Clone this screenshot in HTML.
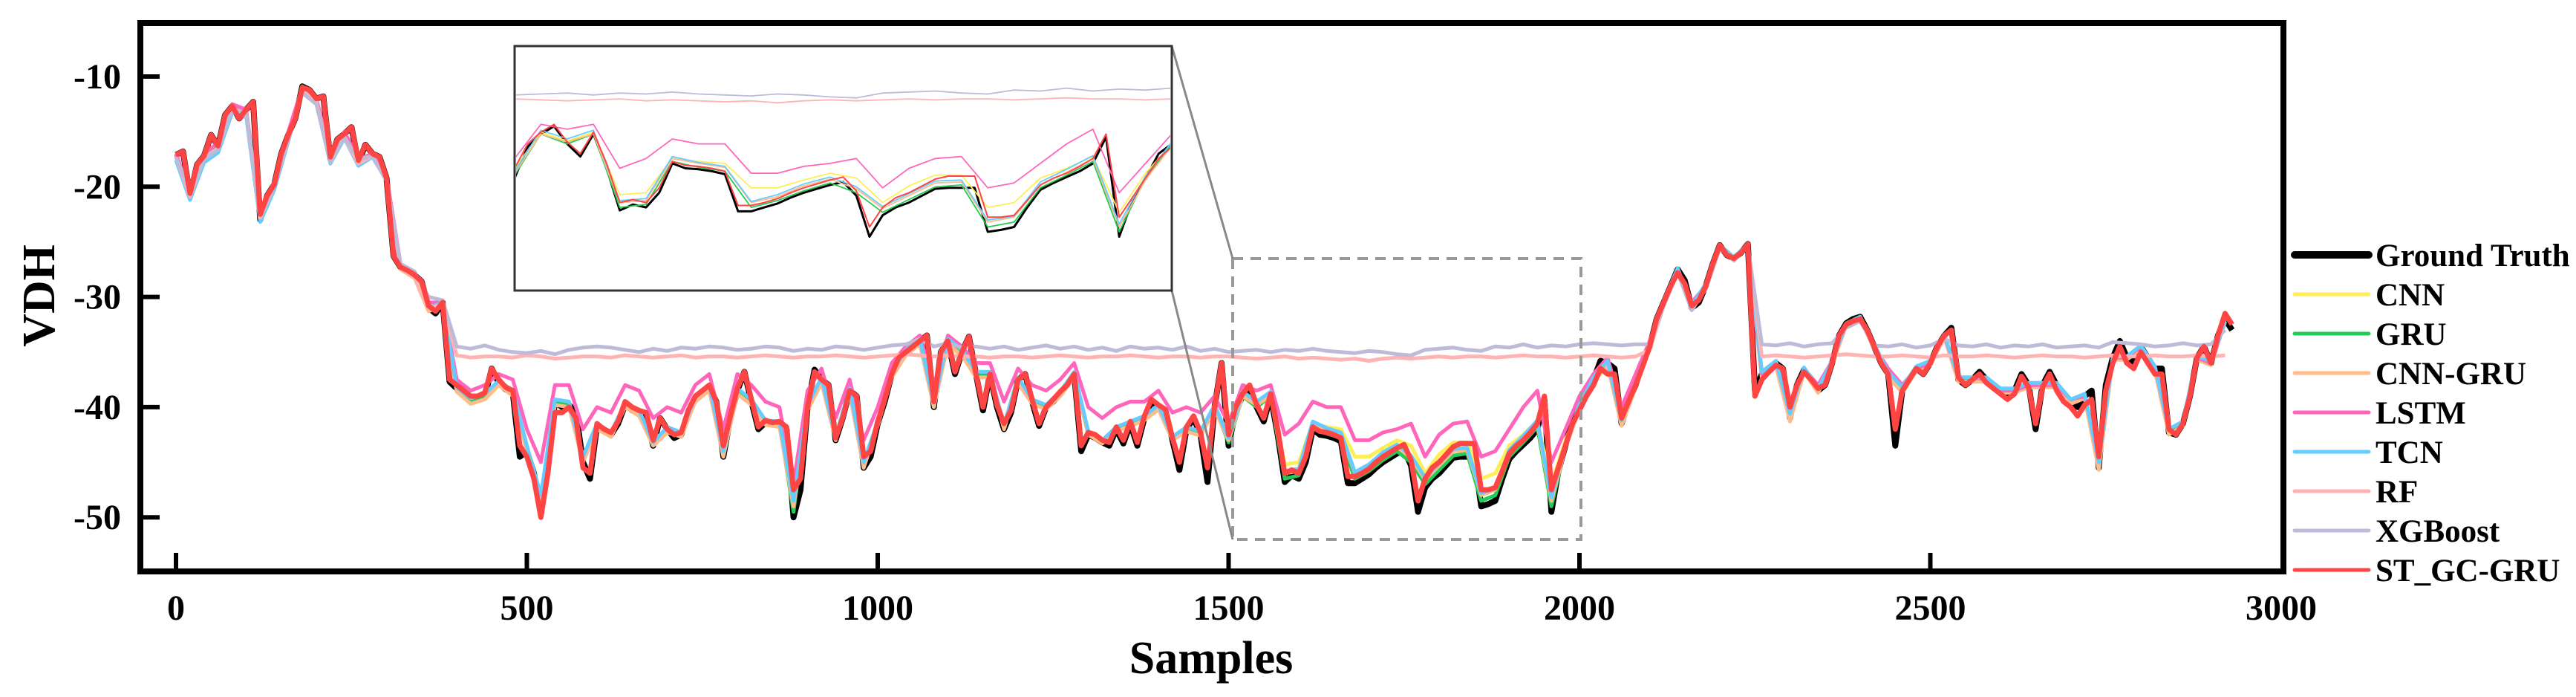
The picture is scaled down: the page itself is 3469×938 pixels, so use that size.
<!DOCTYPE html>
<html>
<head>
<meta charset="utf-8">
<style>
  html,body{margin:0;padding:0;background:#fff;}
  svg{display:block;}
  text{font-family:"Liberation Serif","DejaVu Serif",serif;font-weight:bold;fill:#000;}
</style>
</head>
<body>
<svg id="chart" width="3469" height="938" viewBox="0 0 3469 938" xmlns="http://www.w3.org/2000/svg">
  <defs>
    <clipPath id="mainClip"><rect x="193" y="35" width="2878" height="730"/></clipPath>
    <clipPath id="insetClip"><rect x="695" y="64" width="881" height="325"/></clipPath>
  </defs>
  <rect x="0" y="0" width="3469" height="938" fill="#fff"/>
  <g id="mainSeries" clip-path="url(#mainClip)"></g>
  <rect x="189" y="31" width="2886" height="738" fill="none" stroke="#000" stroke-width="8"/>
  <g id="ticks"></g>
  <text x="1631" y="906" font-size="62" text-anchor="middle">Samples</text>
  <text x="0" y="0" font-size="62" text-anchor="middle" transform="translate(73,398) rotate(-90)">VDH</text>
  <rect x="1660" y="348" width="469" height="378" fill="none" stroke="#999" stroke-width="4" stroke-dasharray="14 10"/>
  <line x1="1578" y1="62" x2="1660" y2="348" stroke="#888" stroke-width="3"/>
  <line x1="1578" y1="391" x2="1660" y2="726" stroke="#888" stroke-width="3"/>
  <rect x="693" y="62" width="885" height="329" fill="#fff"/>
  <g id="insetSeries" clip-path="url(#insetClip)"></g>
  <rect x="693" y="62" width="885" height="329" fill="none" stroke="#333" stroke-width="3"/>
  <g id="legend"></g>
</svg>
<script>
const seriesNames = ["Ground Truth","CNN","GRU","CNN-GRU","LSTM","TCN","RF","XGBoost","ST_GC-GRU"];
const seriesColors = ["#000000","#ffee55","#22cc55","#ffbb88","#ff66bb","#66ccff","#ffb3b3","#bdbbd8","#ff4444"];
const xTicks = [0,500,1000,1500,2000,2500,3000];
const yTicks = [-10,-20,-30,-40,-50];

const truth = [
-17.1,-16.8,-20.8,-18,-17.2,-15.3,-16.3,-13.5,-12.7,-13.8,
-13,-12.3,-23,-20.8,-19.8,-17,-15.3,-13.8,-10.9,-11.2,
-12,-11.8,-17.5,-15.7,-15.2,-14.6,-17.8,-16.2,-17,-17.3,
-19.2,-26.3,-27.3,-27.6,-28,-28.6,-31,-31.5,-30.5,-37.7,
-38.3,-38.8,-39.4,-39.3,-39,-36.5,-37.8,-38.4,-38.7,-44.5,
-44,-46,-49.5,-45,-39.5,-40,-39.8,-40.5,-45,-46.5,
-41.7,-42,-42.5,-41.5,-39.8,-40.3,-40.5,-40.8,-43.5,-41,
-42,-42.8,-42.5,-40.5,-39.3,-38.8,-38.2,-39.5,-44.5,-41,
-38.5,-36.8,-39.5,-42,-41.4,-41.6,-41.5,-42,-50,-47.5,
-40,-36.6,-37.5,-38,-43,-41,-38.5,-39,-45.5,-44.5,
-41.5,-39.5,-37,-35.4,-35,-34.5,-34,-33.5,-40,-35,
-34,-37,-35,-33.6,-37,-40.3,-37,-40,-42,-40.5,
-37.5,-37,-39.5,-41.7,-40,-39.5,-38.8,-38,-37,-44,
-42.5,-42.8,-43.2,-43.5,-42,-43.3,-41.5,-43.5,-41,-39.5,
-40,-40.3,-43,-45.7,-42,-41,-42.5,-46.8,-40,-36,
-43.5,-40.3,-39,-38.2,-40,-41.3,-39,-42.5,-46.8,-46.2,
-46.5,-45,-42,-42.5,-42.6,-42.8,-43.1,-46.9,-46.9,-46.5,
-46.1,-45.5,-45,-44.6,-44.2,-43.9,-45.3,-49.5,-47.3,-46.5,
-46,-45.3,-44.6,-44.5,-44.5,-44.5,-49,-48.8,-48.5,-46.5,
-44.7,-44,-43.4,-42.8,-42,-39.3,-49.5,-45.8,-43.5,-41,
-40,-38.8,-37.5,-35.8,-36,-36.5,-41.5,-39.5,-38,-36,
-34.5,-32,-30.5,-29,-27.5,-28.5,-31,-30.5,-29,-27,
-25.3,-26.2,-26.5,-26,-25.2,-38.5,-37,-36.6,-36,-36.5,
-41,-38,-36.6,-37.5,-38.5,-38,-36,-33.5,-32.4,-32,
-31.8,-33,-34.5,-36,-37,-43.5,-38.5,-37.5,-36.5,-37,
-36,-34.5,-33.5,-32.8,-37.5,-38,-37.5,-36.8,-37.5,-38,
-38.5,-39,-38.5,-37,-38,-42,-38,-36.8,-38,-39,
-39.5,-40,-39,-38.5,-45.5,-38,-35.5,-34,-35.5,-36,
-34.5,-35.5,-36.5,-36.5,-42.3,-42.5,-41.5,-39,-35.5,-34.5,
-36,-33.5,-32,-33];

const stgcgru = [
-17.1,-16.8,-20.6,-18,-17.2,-15.3,-16.3,-13.5,-12.7,-13.8,
-13,-12.3,-22.5,-20.8,-19.8,-17,-15.3,-13.8,-11,-11.2,
-12,-11.8,-17.3,-15.7,-15.2,-14.6,-17.6,-16.2,-17,-17.3,
-19.2,-26.3,-27.3,-27.6,-28,-28.6,-30.8,-31.3,-30.5,-37.5,
-38,-38.5,-39,-39,-38.7,-36.5,-37.5,-38.2,-38.5,-43.5,
-44.5,-46.5,-50,-46,-40.5,-40.5,-40,-41,-45.5,-46,
-41.5,-42,-42.3,-41.3,-39.5,-40,-40.3,-40.5,-43,-41,
-42,-42.5,-42.3,-40.3,-39,-38.5,-38,-39.5,-43.5,-40.8,
-38.3,-36.8,-39.3,-41.8,-41.2,-41.4,-41.3,-41.8,-47.5,-46.5,
-40,-36.8,-37.5,-38,-42.8,-41,-38.5,-39,-44.5,-44,
-41.3,-39.3,-37,-35.5,-35,-34.5,-34,-33.5,-39.5,-35,
-34,-36.8,-35,-33.6,-37,-40,-37,-39.8,-41.5,-40.3,
-37.5,-37,-39.3,-41.5,-40,-39.3,-38.6,-38,-37,-43.5,
-42.3,-42.5,-43,-43.2,-41.8,-43,-41.3,-43.2,-40.8,-39.3,
-39.8,-40.2,-42.8,-45,-41.8,-40.8,-42.3,-45.5,-40,-36,
-42.5,-40,-38.8,-38,-39.8,-41,-38.8,-42,-46,-45.7,
-46,-44.5,-41.8,-42.2,-42.3,-42.5,-42.8,-46.3,-46.3,-46,
-45.6,-45,-44.5,-44.1,-43.7,-43.4,-44.8,-48.5,-46.5,-45.5,
-45,-44.3,-43.6,-43.3,-43.3,-43.3,-47.5,-47.5,-47.3,-45.8,
-44.2,-43.5,-43,-42.3,-41.5,-39,-47.5,-45.5,-43.5,-41.5,
-40.3,-39,-38,-36.5,-37,-37,-41,-39.5,-38,-36.3,
-34.5,-32,-30.5,-29,-27.8,-28.8,-30.8,-30.3,-29,-27,
-25.3,-26.2,-26.5,-26,-25.2,-39,-37.5,-36.8,-36.2,-36.5,
-40,-38,-36.8,-37.5,-38.3,-38,-36,-33.5,-32.5,-32.2,
-32,-33,-34.5,-36,-37,-42,-38.5,-37.5,-36.5,-37,
-36,-34.5,-33.5,-33,-37.3,-38,-37.5,-37,-37.8,-38.3,
-38.8,-39.3,-38.8,-37.2,-38.2,-41.5,-38.2,-37,-38.5,-39.5,
-40,-40.8,-39.8,-39.3,-44.5,-38.5,-36,-34.5,-36,-36.5,
-35,-36,-37,-37,-42,-42.5,-41.5,-39,-35.5,-34.5,
-36,-33.5,-31.5,-32.5];

const cnn = [
-17.1,-20.8,-17.2,-16.3,-12.7,-13,-23,-19.8,-15.3,-10.9,
-12,-17.5,-15.2,-17.8,-17,-19.2,-27.3,-28,-31,-30.5,
-38.2,-39.2,-39,-37.8,-38.5,-43.5,-48.5,-39.5,-39.5,-44.5,
-41.5,-42.3,-39.8,-40.5,-43,-42,-42.3,-39.3,-38.2,-44,
-38.5,-39.5,-41.2,-41.5,-48.5,-40,-37.8,-42.5,-38.5,-45,
-41.3,-37.2,-35.2,-34.3,-39.5,-34.5,-35.3,-37,-37,-41.5,
-37.5,-39.3,-40,-38.8,-37.3,-42.3,-43,-42,-41.3,-40.8,
-40,-42.8,-41.8,-42.2,-40,-42.5,-38.8,-39.7,-38.8,-45.2,
-45,-41.5,-41.8,-42,-44.5,-44.5,-43.7,-43,-43.5,-46,
-44.3,-43.2,-43.2,-46.5,-46,-43.5,-42.5,-41.3,-47,-43,
-40,-37.5,-36,-41.5,-38,-34.5,-30.5,-27.5,-31,-29,
-25.3,-26.5,-25.2,-37,-36,-41,-36.6,-38.5,-36,-32.4,
-31.8,-34.5,-37,-38.5,-36.5,-36,-33.5,-37.5,-37.5,-37.5,
-38.5,-38.5,-38,-38,-38,-39.5,-39,-45.5,-35.5,-35.5,
-34.5,-36.5,-42.3,-41.5,-35.5,-36,-32];
const gru = [
-17.1,-20.8,-17.2,-16.3,-12.7,-13,-23,-19.8,-15.3,-10.9,
-12,-17.5,-15.2,-17.8,-17,-19.2,-27.3,-28,-31,-30.5,
-38.3,-39.4,-39,-37.8,-38.7,-44,-49,-39.5,-39.8,-45,
-41.7,-42.5,-39.8,-40.5,-43.5,-42,-42.5,-39.3,-38.2,-44.5,
-38.5,-39.5,-41.4,-41.5,-49.5,-40,-37.5,-43,-38.5,-45.5,
-41.5,-37,-35,-34,-40,-34,-35,-37,-37,-42,
-37.5,-39.5,-40,-38.8,-37,-42.5,-43.2,-42,-41.5,-41,
-40,-43,-42,-42.5,-40,-43.2,-39,-40,-39,-46.5,
-46.2,-41.8,-42.4,-42.8,-46.5,-45.8,-44.8,-44,-45,-47,
-45.7,-44.4,-44.2,-48.5,-48,-44.5,-43.2,-41.8,-49,-43.5,
-40,-37.5,-36,-41.5,-38,-34.5,-30.5,-27.5,-31,-29,
-25.3,-26.5,-25.2,-37,-36,-41,-36.6,-38.5,-36,-32.4,
-31.8,-34.5,-37,-38.5,-36.5,-36,-33.5,-37.5,-37.5,-37.5,
-38.5,-38.5,-38,-38,-38,-39.5,-39,-45.5,-35.5,-35.5,
-34.5,-36.5,-42.3,-41.5,-35.5,-36,-32];
const cnngru = [
-17.3,-21,-17.4,-16.5,-13,-13.2,-23,-20,-15.5,-11.2,
-12.2,-17.7,-15.4,-18,-17.3,-19.4,-27.5,-28.3,-31.3,-30.8,
-38.6,-39.7,-39.3,-38,-39,-44,-49,-39.8,-40,-45,
-42,-42.7,-40,-40.8,-43.5,-42.3,-42.7,-39.5,-38.5,-44.5,
-38.8,-39.8,-41.6,-41.8,-49,-40.3,-37.8,-43,-38.8,-45.5,
-41.7,-37.3,-35.3,-34.3,-40,-34.3,-35.3,-37.3,-37.3,-42,
-37.8,-39.7,-40.2,-39,-37.3,-42.5,-43.3,-42.2,-41.7,-41.2,
-40.2,-43,-42.2,-42.6,-40.2,-43,-39,-39.8,-39,-46,
-45.8,-41.5,-42,-42.4,-46,-45.4,-44.3,-43.6,-44.6,-46.6,
-45.3,-44,-43.9,-48,-47.5,-44.2,-42.9,-41.5,-48.5,-43.7,
-40.2,-37.7,-36.2,-41.7,-38.2,-34.7,-30.7,-27.7,-31.2,-29.2,
-25.5,-26.7,-25.4,-37.5,-36.3,-41.3,-36.8,-38.7,-36.2,-32.6,
-32,-34.7,-37.2,-38.7,-36.7,-36.2,-33.7,-37.7,-37.7,-37.7,
-38.7,-38.7,-38.2,-38.2,-38.2,-39.7,-39.2,-45.7,-35.7,-35.7,
-34.7,-36.7,-42.5,-41.7,-35.7,-36.2,-32.2];
const lstm = [
-17,-20.5,-17,-16,-12.5,-13,-22.5,-19.5,-15,-11,
-12,-17,-15,-17.5,-17,-19,-27,-28,-30.5,-30.5,
-37.5,-38.5,-38,-37,-37.5,-42,-45,-38,-38,-42,
-40,-40.5,-38,-38.5,-41,-40,-40.5,-38,-37,-42,
-37,-38,-39.5,-40,-47,-38.5,-36.5,-41,-37.5,-43,
-40,-36,-34.5,-33.5,-38,-33.5,-34.5,-36,-36,-39.5,
-36.5,-38,-38.5,-37.5,-36,-40,-41,-40,-39.5,-39.5,
-38.5,-40.5,-40,-40.5,-39,-41.5,-38,-38.5,-38,-42.5,
-41.5,-39.5,-40,-40,-43,-43,-42.3,-42,-41.5,-44.5,
-42.5,-41.5,-41.3,-44.5,-44,-42,-40,-38.5,-45,-42,
-39,-37,-35.5,-40,-37,-34,-30.5,-27.5,-30.5,-29,
-25.5,-26.5,-25.5,-37,-36,-40,-36.5,-38,-35.8,-32.5,
-32,-34.5,-36.5,-38,-36.5,-36,-33.5,-37.3,-37.3,-37.5,
-38.5,-38.5,-38,-38,-38,-39.3,-39,-44.5,-35.5,-35.5,
-34.5,-36.3,-42,-41.3,-35.5,-36,-32.3];
const tcn = [
-17.6,-21.2,-17.8,-16.9,-13.3,-13.6,-23.2,-20.3,-15.9,-11.4,
-12.4,-17.9,-15.6,-18.1,-17.3,-19.4,-27.3,-28,-31,-30.5,
-38.2,-39.2,-38.8,-37.6,-38.5,-43.5,-48,-39.3,-39.5,-44.5,
-41.5,-42.3,-39.6,-40.3,-43.2,-41.8,-42.3,-39.1,-38,-44,
-38.3,-39.3,-41.2,-41.3,-48.5,-39.8,-37.3,-42.7,-38.3,-45,
-41.3,-36.8,-34.8,-33.8,-39.6,-33.8,-34.8,-36.8,-36.8,-41.6,
-37.3,-39.3,-39.8,-38.6,-36.8,-42.2,-43,-41.8,-41.3,-40.8,
-39.8,-42.7,-41.8,-42.2,-39.8,-42.8,-38.6,-39.5,-38.6,-45.8,
-45.6,-41.3,-41.9,-42.3,-45.9,-45.2,-44.1,-43.4,-44.4,-46.4,
-45.1,-43.8,-43.7,-47.8,-47.4,-43.9,-42.6,-41.2,-48.2,-43.3,
-39.8,-37.3,-35.8,-41.2,-37.8,-34.3,-30.3,-27.4,-30.8,-28.8,
-25.3,-26.4,-25.2,-36.8,-35.8,-40.6,-36.4,-38.3,-35.8,-32.4,
-31.8,-34.3,-36.8,-38.2,-36.3,-35.8,-33.4,-37.3,-37.3,-37.3,
-38.3,-38.3,-37.8,-37.8,-37.8,-39.3,-38.8,-45,-35.4,-35.4,
-34.4,-36.3,-42,-41.3,-35.4,-35.8,-32.3];
const rf = [
-17.3,-20.9,-17.4,-16.5,-13,-13.3,-22.8,-20,-15.6,-11.3,
-12.3,-17.6,-15.5,-17.9,-17.2,-19.4,-27.4,-28.2,-31,-30.7,
-35.3,-35.5,-35.4,-35.4,-35.5,-35.3,-35.4,-35.6,-35.5,-35.4,
-35.4,-35.5,-35.3,-35.4,-35.5,-35.4,-35.3,-35.5,-35.4,-35.4,
-35.5,-35.4,-35.3,-35.4,-35.5,-35.4,-35.4,-35.3,-35.4,-35.5,
-35.4,-35.3,-35.2,-35.3,-35.4,-35.3,-35.4,-35.4,-35.5,-35.4,
-35.4,-35.5,-35.4,-35.3,-35.4,-35.5,-35.4,-35.4,-35.3,-35.4,
-35.5,-35.4,-35.4,-35.5,-35.4,-35.4,-35.5,-35.6,-35.5,-35.4,
-35.6,-35.5,-35.6,-35.7,-35.6,-35.8,-35.6,-35.5,-35.6,-35.5,
-35.4,-35.5,-35.4,-35.4,-35.5,-35.4,-35.3,-35.4,-35.4,-35.5,
-35.4,-35.3,-35.4,-35.5,-35.4,-34.8,-30.8,-27.8,-31,-29.2,
-25.5,-26.6,-25.4,-35.4,-35.3,-35.4,-35.5,-35.4,-35.3,-35.2,
-35.3,-35.4,-35.4,-35.3,-35.4,-35.5,-35.3,-35.4,-35.4,-35.3,
-35.4,-35.5,-35.4,-35.3,-35.4,-35.4,-35.5,-35.4,-35.3,-35.4,
-35.4,-35.3,-35.4,-35.4,-35.3,-35.4,-35.3];
const xgboost = [
-17.3,-20.5,-17.5,-16.6,-13,-13.3,-22.5,-20,-15.8,-11.5,
-12.5,-17.8,-15.5,-17.5,-17.2,-19.5,-27,-27.7,-30,-30.3,
-34.5,-34.7,-34.4,-34.8,-35,-35.1,-34.9,-35.2,-34.8,-34.6,
-34.5,-34.6,-34.8,-35,-34.7,-34.9,-34.6,-34.7,-34.5,-34.6,
-34.8,-34.7,-34.5,-34.6,-34.9,-34.7,-34.8,-34.5,-34.6,-34.8,
-34.6,-34.4,-34.3,-33.8,-34.5,-34.2,-34.6,-34.5,-34.7,-34.5,
-34.8,-34.6,-34.4,-34.7,-34.5,-34.8,-34.6,-34.9,-34.5,-34.7,
-34.6,-34.8,-34.5,-34.9,-34.7,-35,-34.9,-34.8,-35,-34.8,
-34.9,-34.7,-34.9,-35,-35.1,-34.9,-35,-35.2,-35.3,-34.8,
-34.7,-34.6,-34.8,-34.9,-34.5,-34.6,-34.3,-34.6,-34.4,-34.5,
-34.3,-34.2,-34.3,-34.4,-34.3,-34.3,-30.8,-27.8,-31.2,-29.3,
-25.6,-26.7,-25.4,-34.3,-34.4,-34.2,-34.5,-34.3,-34.2,-32.8,
-32.2,-34.4,-34.5,-34.3,-34.6,-34.4,-33.8,-34.4,-34.5,-34.3,
-34.6,-34.4,-34.5,-34.3,-34.6,-34.5,-34.4,-34.6,-34.1,-34.2,
-34.3,-34.5,-34.4,-34.2,-34.4,-34.3,-33];

const NS = "http://www.w3.org/2000/svg";
function xMain(s){ return 237 + s * 0.945; }
function yMain(v){ return 103 + (-10 - v) * 14.83; }
function xInset(s){ return 693 + (s - 1500) / 500 * 885; }
function yInset(v){ return 62 + (-30 - v) / 25 * 329; }

function buildPath(arr, step, xf, yf){
  let d = "";
  for (let i = 0; i < arr.length; i++){
    d += (i ? "L" : "M") + xf(i * step).toFixed(1) + "," + yf(arr[i]).toFixed(1);
  }
  return d;
}

const seriesData = [truth, cnn, gru, cnngru, lstm, tcn, rf, xgboost, stgcgru];
const seriesSteps = [10, 20, 20, 20, 20, 20, 20, 20, 10];
const mainWidths = [8, 5, 5, 5, 5, 5, 5, 5, 7];
const insetWidths = [3, 1.8, 1.8, 1.8, 1.8, 1.8, 1.8, 1.8, 2];
const slugs = ["ground-truth","cnn","gru","cnn-gru","lstm","tcn","rf","xgboost","st-gc-gru"];

const mainG = document.getElementById("mainSeries");
const insetG = document.getElementById("insetSeries");
for (let k = 0; k < seriesData.length; k++){
  const p = document.createElementNS(NS, "path");
  p.setAttribute("d", buildPath(seriesData[k], seriesSteps[k], xMain, yMain));
  p.setAttribute("fill", "none");
  p.setAttribute("stroke", seriesColors[k]);
  p.setAttribute("stroke-width", mainWidths[k]);
  p.setAttribute("stroke-linejoin", "round");
  
  
  mainG.appendChild(p);

  const q = document.createElementNS(NS, "path");
  q.setAttribute("d", buildPath(seriesData[k], seriesSteps[k], xInset, yInset));
  q.setAttribute("fill", "none");
  q.setAttribute("stroke", seriesColors[k]);
  q.setAttribute("stroke-width", insetWidths[k]);
  q.setAttribute("stroke-linejoin", "round");
  
  
  insetG.appendChild(q);
}

const tickG = document.getElementById("ticks");
for (const v of yTicks){
  const y = yMain(v);
  const t = document.createElementNS(NS, "line");
  t.setAttribute("x1", 193); t.setAttribute("x2", 215);
  t.setAttribute("y1", y); t.setAttribute("y2", y);
  t.setAttribute("stroke", "#000"); t.setAttribute("stroke-width", 6);
  
  
  tickG.appendChild(t);
  const tx = document.createElementNS(NS, "text");
  tx.setAttribute("x", 163); tx.setAttribute("y", y + 16);
  tx.setAttribute("font-size", 48); tx.setAttribute("text-anchor", "end");
  tx.textContent = String(v);
  
  
  tickG.appendChild(tx);
}
for (const s of xTicks){
  const x = xMain(s);
  if (s < 3000){
    const t = document.createElementNS(NS, "line");
    t.setAttribute("x1", x); t.setAttribute("x2", x);
    t.setAttribute("y1", 765); t.setAttribute("y2", 744);
    t.setAttribute("stroke", "#000"); t.setAttribute("stroke-width", 6);
    
    
    tickG.appendChild(t);
  }
  const tx = document.createElementNS(NS, "text");
  tx.setAttribute("x", x); tx.setAttribute("y", 834);
  tx.setAttribute("font-size", 48); tx.setAttribute("text-anchor", "middle");
  tx.textContent = String(s);
  
  
  tickG.appendChild(tx);
}

const legG = document.getElementById("legend");
for (let k = 0; k < seriesNames.length; k++){
  const y = 343 + k * 53;
  const l = document.createElementNS(NS, "line");
  l.setAttribute("x1", 3090); l.setAttribute("x2", 3190);
  l.setAttribute("y1", y); l.setAttribute("y2", y);
  l.setAttribute("stroke", seriesColors[k]);
  l.setAttribute("stroke-width", k === 0 ? 10 : 5);
  l.setAttribute("stroke-linecap", "round");
  
  
  legG.appendChild(l);
  const tx = document.createElementNS(NS, "text");
  tx.setAttribute("x", 3199); tx.setAttribute("y", y + 15);
  tx.setAttribute("font-size", 43);
  tx.textContent = seriesNames[k];
  
  
  legG.appendChild(tx);
}
</script>
</body>
</html>
